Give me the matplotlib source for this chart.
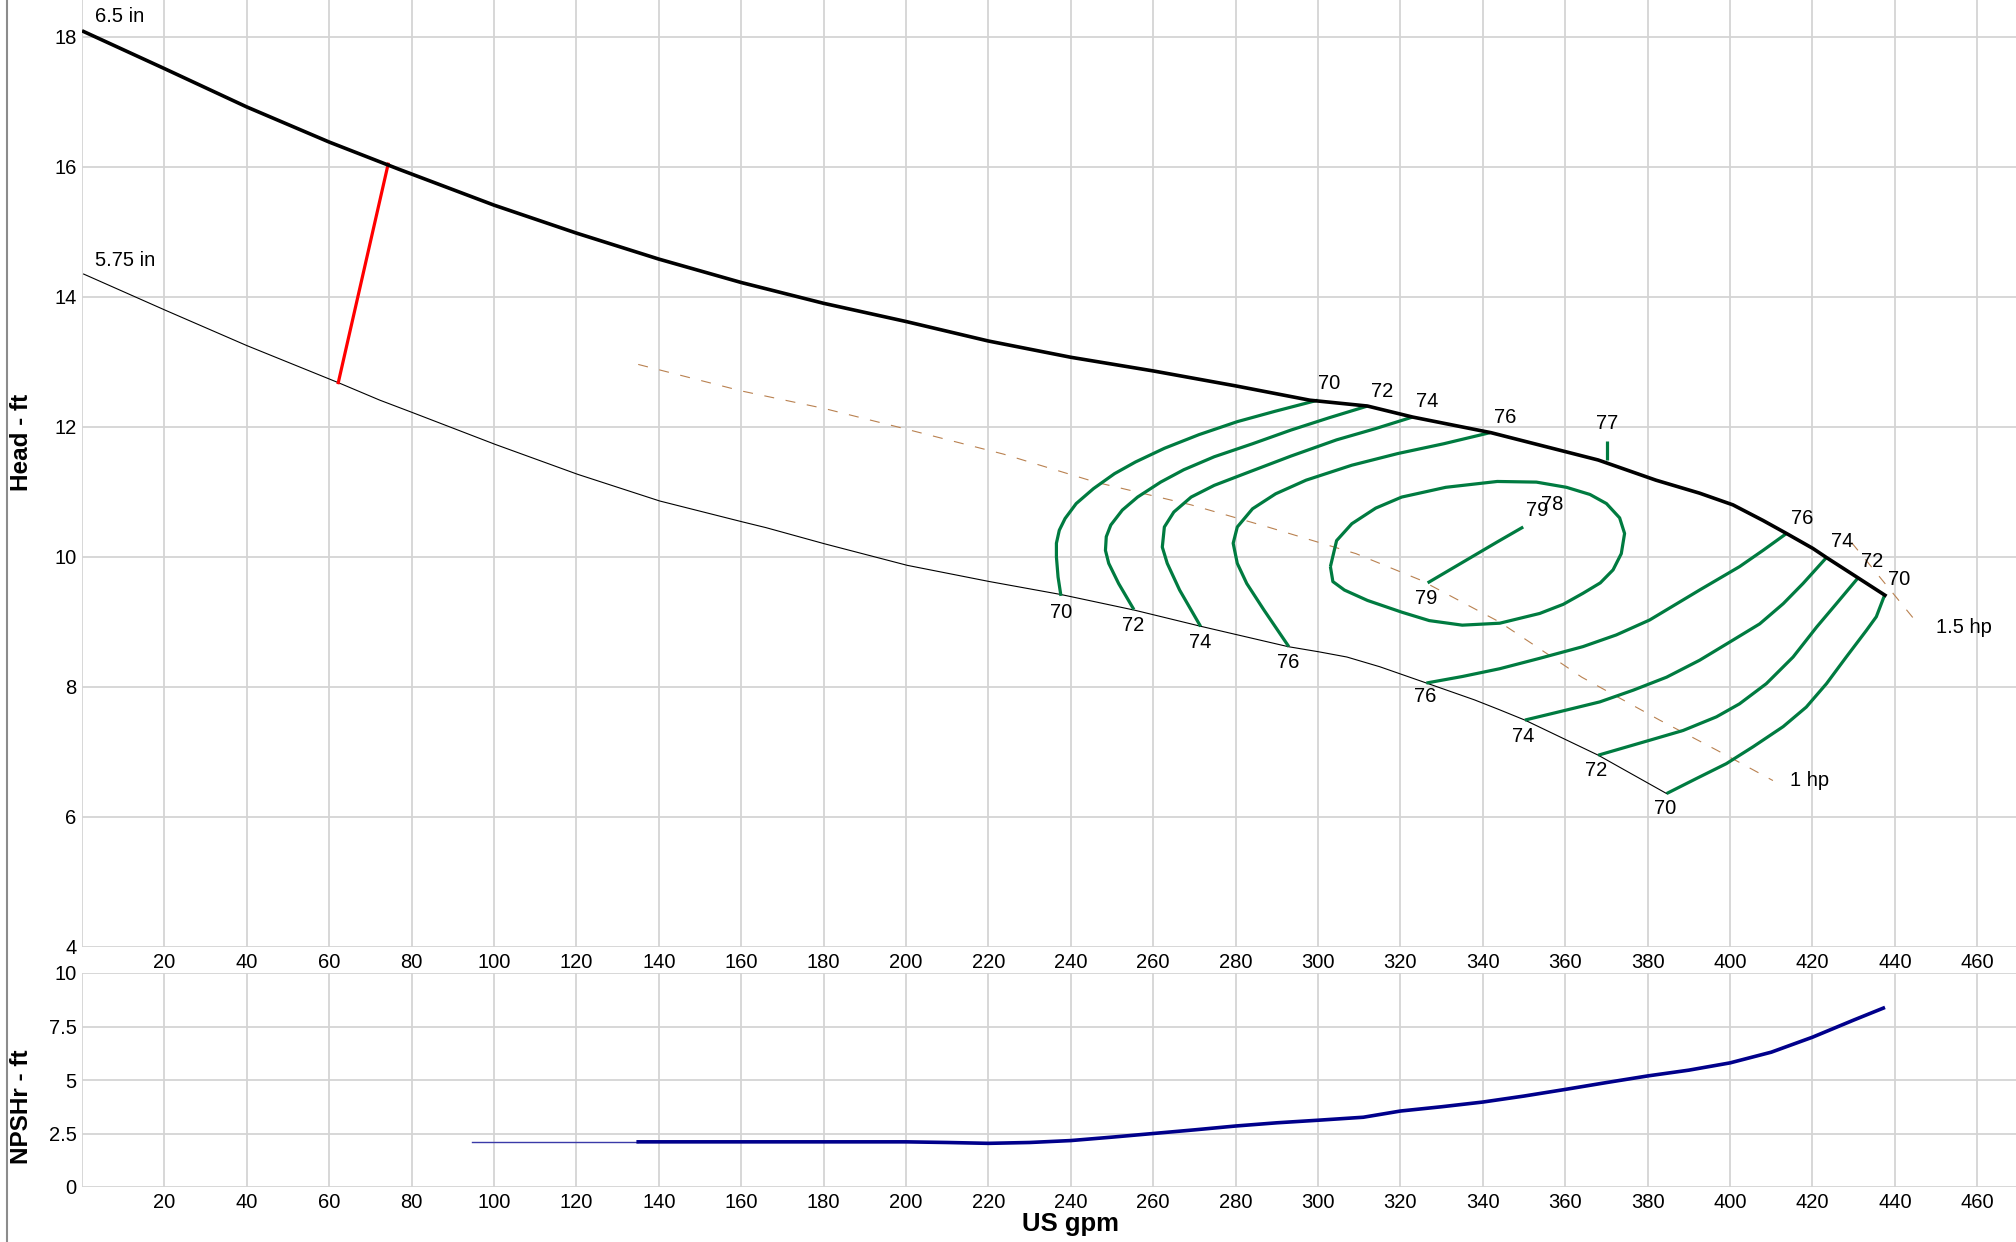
"""Pump performance chart: head / efficiency curves over flow, NPSHr underneath."""

import matplotlib
matplotlib.use("Agg")
import matplotlib.pyplot as plt
from matplotlib.lines import Line2D

plt.rcParams["font.family"] = ["Liberation Sans", "DejaVu Sans"]

# ── impeller curves (US gpm, ft) ─────────────────────────────────────────────
Q_65 = [0.4, 20, 40, 60, 77, 100, 120, 140, 160, 180, 200, 220, 240, 260, 280, 298,
        312, 323, 342, 368, 382, 392.6, 400.7, 408, 413.7, 420.1, 423.4, 431, 437.6]
H_65 = [18.08, 17.51, 16.92, 16.38, 15.96, 15.41, 14.98, 14.58, 14.22, 13.90, 13.62,
        13.32, 13.07, 12.86, 12.63, 12.41, 12.32, 12.15, 11.91, 11.49, 11.18, 10.98,
        10.80, 10.56, 10.36, 10.13, 9.99, 9.68, 9.41]

Q_575 = [0.4, 20, 40, 62.2, 72.3, 80.2, 100.3, 120.3, 140.2, 160.2, 166, 180.3, 200.3,
         220.3, 237.7, 255.5, 271.7, 292.7, 300.2, 307, 315, 326.3, 338, 344, 350.2,
         368, 384.6]
H_575 = [14.35, 13.80, 13.25, 12.68, 12.41, 12.22, 11.73, 11.27, 10.86, 10.54, 10.45,
         10.20, 9.87, 9.62, 9.42, 9.18, 8.93, 8.62, 8.54, 8.46, 8.31, 8.06, 7.80, 7.65,
         7.49, 6.95, 6.36]

Q_RED = [62.2, 74.3]
H_RED = [12.68, 16.04]

# ── efficiency iso-lines ────────────────────────────────────────────────────
Q_70L = [299.9, 289.6, 280.4, 271.1, 262.7, 255.7, 250.6, 245.5, 241.3, 238.6, 237.2,
         236.5, 236.5, 236.9, 237.6]
H_70L = [12.41, 12.24, 12.08, 11.88, 11.67, 11.46, 11.28, 11.05, 10.82, 10.59, 10.41,
         10.21, 10.00, 9.69, 9.40]
Q_72L = [312.0, 302.7, 293.4, 284.1, 274.8, 267.4, 261.8, 256.2, 252.5, 249.7, 248.6,
         248.4, 249.2, 251.6, 255.3]
H_72L = [12.32, 12.14, 11.95, 11.74, 11.54, 11.34, 11.15, 10.92, 10.72, 10.49, 10.31,
         10.10, 9.90, 9.59, 9.19]
Q_74L = [322.9, 313.8, 304.5, 293.4, 282.2, 274.8, 269.2, 265.0, 262.7, 262.2, 263.4,
         266.4, 271.5]
H_74L = [12.15, 11.97, 11.80, 11.55, 11.28, 11.10, 10.92, 10.69, 10.46, 10.15, 9.90,
         9.49, 8.93]
Q_76L = [341.7, 330.5, 319.4, 308.2, 297.1, 289.7, 284.1, 280.4, 279.4, 280.4, 282.7,
         286.9, 292.9]
H_76L = [11.91, 11.74, 11.59, 11.41, 11.18, 10.97, 10.74, 10.46, 10.21, 9.90, 9.59,
         9.18, 8.62]

Q_76R = [413.7, 408.0, 402.3, 392.6, 380.5, 372.4, 364.3, 353.8, 344.1, 335, 326.3]
H_76R = [10.36, 10.10, 9.85, 9.49, 9.03, 8.80, 8.62, 8.44, 8.28, 8.16, 8.06]
Q_74R = [423.4, 417.7, 412.9, 407.2, 400.7, 392.6, 384.6, 376.5, 368.4, 358.7, 350.2]
H_74R = [9.99, 9.59, 9.28, 8.97, 8.72, 8.41, 8.15, 7.95, 7.77, 7.62, 7.49]
Q_72R = [431.1, 425.8, 421.0, 415.3, 408.8, 402.3, 396.7, 388.6, 380.5, 368.0]
H_72R = [9.68, 9.28, 8.92, 8.46, 8.05, 7.74, 7.54, 7.33, 7.18, 6.95]
Q_70R = [437.5, 435.5, 433.1, 428.2, 423.4, 418.5, 412.9, 405.6, 399.1, 391.8, 384.6]
H_70R = [9.41, 9.08, 8.87, 8.46, 8.05, 7.69, 7.39, 7.08, 6.82, 6.59, 6.36]

Q_78 = [303.0, 304.5, 308.2, 314, 320.3, 331, 343.5, 353, 360.3, 366, 370, 373.2, 374.4,
        373.6, 371.6, 368.5, 364.3, 359.5, 353.8, 344.1, 335, 327, 320.3, 312, 306.4,
        303.6, 303.0]
H_78 = [9.85, 10.25, 10.51, 10.75, 10.92, 11.07, 11.16, 11.15, 11.07, 10.96, 10.82, 10.60,
        10.36, 10.05, 9.80, 9.60, 9.44, 9.27, 9.13, 8.98, 8.95, 9.02, 9.15, 9.33, 9.49,
        9.62, 9.85]
Q_79 = [326.6, 343.5, 349.8]
H_79 = [9.60, 10.23, 10.46]
Q_77 = [370.1, 370.1]
H_77 = [11.49, 11.79]

EFF_LINES = [(Q_70L, H_70L), (Q_72L, H_72L), (Q_74L, H_74L), (Q_76L, H_76L),
             (Q_76R, H_76R), (Q_74R, H_74R), (Q_72R, H_72R), (Q_70R, H_70R),
             (Q_78, H_78), (Q_79, H_79), (Q_77, H_77)]

EFF_TEXT = ["70", "72", "74", "76", "77",
            "70", "72", "74", "76", "76", "74", "72", "70",
            "76", "74", "72", "70",
            "79", "79", "78"]
EFF_TQ = [302.8, 315.5, 326.5, 345.4, 370.1,
          237.7, 255.1, 271.5, 292.7, 325.9, 349.8, 367.4, 384.2,
          417.4, 427.1, 434.6, 441.0,
          326.2, 353.3, 356.8]
EFF_TH = [12.67, 12.55, 12.39, 12.15, 12.05,
          9.15, 8.94, 8.69, 8.38, 7.86, 7.24, 6.71, 6.13,
          10.59, 10.23, 9.93, 9.65,
          9.36, 10.72, 10.81]

# ── power lines ─────────────────────────────────────────────────────────────
Q_1HP = [135, 160.2, 180.3, 198.5, 223.7, 246, 269.2, 287.8, 309.2, 325, 344, 355.6,
         364, 382.9, 396.7, 410.4]
H_1HP = [12.96, 12.55, 12.28, 11.99, 11.58, 11.15, 10.80, 10.46, 10.05, 9.64, 9.0, 8.51,
         8.15, 7.49, 7.03, 6.56]
Q_15HP = [429.5, 445.6]
H_15HP = [10.22, 8.97]

# ── NPSHr ───────────────────────────────────────────────────────────────────
Q_NPSH_EXT = [94.6, 135]
N_NPSH_EXT = [2.11, 2.11]
Q_NPSH = [135, 160, 180, 200, 210, 220, 230, 240, 250, 260, 270, 280, 290, 300, 311,
          320, 330, 340, 350, 360, 370, 380, 390, 400, 410, 420, 430, 437.2]
N_NPSH = [2.11, 2.11, 2.11, 2.11, 2.08, 2.04, 2.08, 2.17, 2.33, 2.50, 2.67, 2.85, 3.00,
          3.12, 3.26, 3.55, 3.75, 3.97, 4.25, 4.56, 4.88, 5.19, 5.46, 5.80, 6.30, 7.00,
          7.80, 8.36]

X_TICKS = list(range(0, 461, 20))
X_LABELS = [""] + [str(v) for v in X_TICKS[1:]]
HEAD_TICKS = [4, 6, 8, 10, 12, 14, 16, 18]
NPSH_TICKS = [0, 2.5, 5, 7.5, 10]
NPSH_LABELS = ["0", "2.5", "5", "7.5", "10"]

GREEN, BROWN, NAVY, GRID = "#007b40", "#b98150", "#00008b", "#d4d4d4"
FS = 14.5
W, H = 2016, 1242


def style(ax, yticks, ylabels=None):
    for s in ax.spines.values():
        s.set_visible(False)
    ax.set_xticks(X_TICKS)
    ax.set_xticklabels(X_LABELS)
    ax.set_yticks(yticks)
    if ylabels:
        ax.set_yticklabels(ylabels)
    ax.tick_params(length=0, labelsize=FS, pad=4)
    ax.grid(True, color=GRID, lw=1.3)
    ax.set_axisbelow(True)


fig = plt.figure(figsize=(W / 100, H / 100), dpi=100)
ax = fig.add_axes([82 / W, 1 - 947 / H, (W - 82) / W, 947 / H])
ax2 = fig.add_axes([82 / W, 1 - 1187 / H, (W - 82) / W, 214 / H])

# head chart
style(ax, HEAD_TICKS)
ax.set_xlim(0, 469.4)
ax.set_ylim(4, 18.565)
ax.plot(Q_1HP, H_1HP, color=BROWN, lw=0.8, dashes=(9, 10.5), zorder=2)
ax.plot(Q_15HP, H_15HP, color=BROWN, lw=0.8, dashes=(9, 10.5), zorder=2)
ax.plot(Q_575, H_575, color="black", lw=0.8, zorder=3)
for q, h in EFF_LINES:
    ax.plot(q, h, color=GREEN, lw=2.3, zorder=4, solid_capstyle="butt",
            solid_joinstyle="round")
ax.plot(Q_RED, H_RED, color="#ff0000", lw=2.3, zorder=4)
ax.plot(Q_65, H_65, color="black", lw=2.6, zorder=5, solid_joinstyle="round")
for t, q, h in zip(EFF_TEXT, EFF_TQ, EFF_TH):
    ax.text(q, h, t, fontsize=FS, ha="center", va="center", zorder=6)
ax.text(3.1, 18.31, "6.5 in", fontsize=FS, ha="left", va="center")
ax.text(3.1, 14.56, "5.75 in", fontsize=FS, ha="left", va="center")
ax.text(414.5, 6.56, "1 hp", fontsize=FS, ha="left", va="center")
ax.text(450.1, 8.92, "1.5 hp", fontsize=FS, ha="left", va="center")

# NPSHr chart
style(ax2, NPSH_TICKS, NPSH_LABELS)
ax2.set_xlim(0, 469.4)
ax2.set_ylim(0, 10)
ax2.plot(Q_NPSH_EXT, N_NPSH_EXT, color="#3a3aa8", lw=1.0, zorder=3)
ax2.plot(Q_NPSH, N_NPSH, color=NAVY, lw=2.6, zorder=4, solid_joinstyle="round")

fig.text(22 / W, 1 - 442 / H, "Head - ft", rotation=90, fontsize=17.5, fontweight="bold",
         ha="center", va="center")
fig.text(22 / W, 1 - 1107 / H, "NPSHr - ft", rotation=90, fontsize=17.5, fontweight="bold",
         ha="center", va="center")
fig.text(1071 / W, 1 - 1224 / H, "US gpm", fontsize=18.5, fontweight="bold",
         ha="center", va="center")
fig.add_artist(Line2D([7 / W, 7 / W], [0, 1], color="#8c8c8c", lw=1.5))

fig.savefig("out.png", dpi=100)
